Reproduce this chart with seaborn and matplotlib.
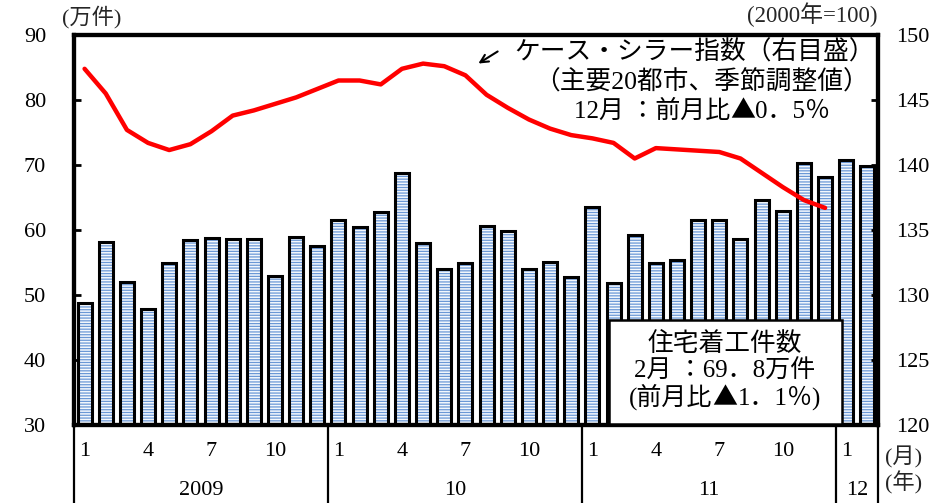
import numpy as np
import pandas as pd
import matplotlib
matplotlib.use("Agg")
import matplotlib.pyplot as plt
import seaborn as sns
from matplotlib.patches import Rectangle, FancyArrowPatch
from matplotlib.transforms import blended_transform_factory

# Monthly housing starts (10,000 units, SAAR), Jan 2009 - Feb 2012
housing_starts = [48.8, 58.2, 52.0, 47.8, 55.0, 58.5, 58.7, 58.6, 58.6, 53.0, 58.9, 57.6,
                  61.5, 60.4, 62.7, 68.7, 58.0, 54.0, 55.0, 60.6, 59.8, 54.0, 55.1, 52.7,
                  63.6, 51.8, 59.3, 55.0, 55.4, 61.5, 61.5, 58.6, 64.6, 62.9, 70.3, 68.1,
                  70.7, 69.8]

# Case-Shiller 20-city composite (2000=100, SA), Jan 2009 - Dec 2011
case_shiller = [147.4, 145.5, 142.7, 141.7, 141.15, 141.6, 142.6, 143.8, 144.2, 144.7, 145.2, 145.85,
                146.5, 146.5, 146.2, 147.4, 147.8, 147.6, 146.9, 145.4, 144.4, 143.5, 142.8, 142.3,
                142.05, 141.7, 140.5, 141.3, 141.2, 141.1, 141.0, 140.5, 139.4, 138.3, 137.3, 136.7]

month_labels = ["1", "4", "7", "10"]
year_labels = ["2009", "10", "11", "12"]
year_lengths = [12, 12, 12, 2]

left_ticks = [30, 40, 50, 60, 70, 80, 90]
right_ticks = [120, 125, 130, 135, 140, 145, 150]

sns.set_theme(style="white")
SERIF = ["Liberation Serif", "Noto Sans CJK JP"]
CJK = ["Noto Sans CJK JP"]
plt.rcParams["font.family"] = SERIF
plt.rcParams["hatch.linewidth"] = 0.9

W, H = 951, 503
fig = plt.figure(figsize=(W / 100, H / 100), dpi=100)
L, R, T, B = 74, 878, 35, 425
ax = fig.add_axes([L / W, (H - B) / H, (R - L) / W, (B - T) / H])

n = len(housing_starts)
df = pd.DataFrame({"pos": np.arange(n), "starts": housing_starts})

# striped fill
sns.barplot(data=df, x="pos", y="starts", ax=ax, width=0.66, color="#ffffff",
            edgecolor="#6b98d6", linewidth=0, errorbar=None, saturation=1)
for p in ax.patches:
    p.set_hatch("------")
    p.set_facecolor("#f4f8fd")
# black outline
sns.barplot(data=df, x="pos", y="starts", ax=ax, width=0.66, facecolor="none",
            edgecolor="black", linewidth=2.2, errorbar=None)

ax.set_ylim(30, 90)
ax.set_yticks(left_ticks)
ax.set_xticks([])
ax.set_xlabel("")
ax.set_ylabel("")
ax.tick_params(axis="y", direction="in", length=5, width=2, labelsize=16, pad=20,
               left=True, colors="black")

ax2 = ax.twinx()
line_df = pd.DataFrame({"pos": np.arange(len(case_shiller)), "idx": case_shiller})
sns.lineplot(data=line_df, x="pos", y="idx", ax=ax2, color="#ff0000", linewidth=3.2)
ax2.set_ylim(120, 150)
ax2.set_yticks(right_ticks)
ax2.set_ylabel("")
ax2.set_xlabel("")
ax2.tick_params(axis="y", direction="in", length=5, width=2, labelsize=16, pad=13,
                right=True, colors="black")
ax.set_xlim(-0.5, n - 0.5)
ax2.set_xlim(-0.5, n - 0.5)

for a in (ax, ax2):
    for s in a.spines.values():
        s.set_color("black")
        s.set_linewidth(3)

# month / year rows under the axis
tr = blended_transform_factory(ax.transData, ax.transAxes)
bounds = np.concatenate([[0], np.cumsum(year_lengths)]) - 0.5
for b in bounds:
    ax.plot([b, b], [0, -0.22], transform=tr, color="black", lw=1.6, clip_on=False)
start = 0
for yl, ln in zip(year_labels, year_lengths):
    for k, m in enumerate(month_labels):
        if 3 * k < ln:
            ax.text(start + 3 * k, -0.067, m, transform=tr, ha="center", va="center",
                    fontsize=16, color="black")
    ax.text(start + (ln - 1) / 2, -0.169, yl, transform=tr, ha="center",
            va="center", fontsize=16, color="black")
    start += ln


def fx(px):
    return px / W


def fy(py):
    return 1 - py / H


renderer = fig.canvas.get_renderer()


def draw_runs(xc, y_base, runs, size, z=6):
    """Lay out text pieces with different font families on one centred line."""
    arts = [fig.text(0, fy(y_base), s, ha="left", va="baseline", fontsize=size,
                     family=fam, zorder=z, color="black") for s, fam in runs]
    widths = [t.get_window_extent(renderer).width for t in arts]
    x = xc - sum(widths) / 2
    for t, w in zip(arts, widths):
        t.set_x(fx(x))
        x += w


fig.text(fx(904), fy(457), "(月)", ha="center", va="center", fontsize=16)
fig.text(fx(904), fy(483), "(年)", ha="center", va="center", fontsize=16)
fig.text(fx(92), fy(17), "(万件)", ha="center", va="center", fontsize=16)
fig.text(fx(878), fy(15), "(2000年=100)", ha="right", va="center", fontsize=16.5)

draw_runs(695, 60, [("ケース・シラー指数（右目盛）", SERIF)], 18.5)
draw_runs(702, 90, [("（主要20都市、季節調整値）", SERIF)], 18.5)
draw_runs(702, 118, [("12月 ：前月比", SERIF), ("▲", CJK), ("0．5％", SERIF)], 18)

fig.add_artist(FancyArrowPatch(
    (fx(500), fy(50)), (fx(476), fy(65)), transform=fig.transFigure,
    arrowstyle="->", mutation_scale=14, lw=1.5, color="black"))

box = Rectangle((fx(609), fy(424)), fx(842) - fx(609), fy(320) - fy(424),
                transform=fig.transFigure, facecolor="white", edgecolor="black",
                lw=1.8, zorder=5)
fig.add_artist(box)
draw_runs(725, 351, [("住宅着工件数", SERIF)], 18.5)
draw_runs(725, 378, [("2月 ：69．8万件", SERIF)], 18)
draw_runs(725, 405, [("(前月比", SERIF), ("▲", CJK), ("1．1％)", SERIF)], 18)

fig.savefig("out.png", dpi=100)
